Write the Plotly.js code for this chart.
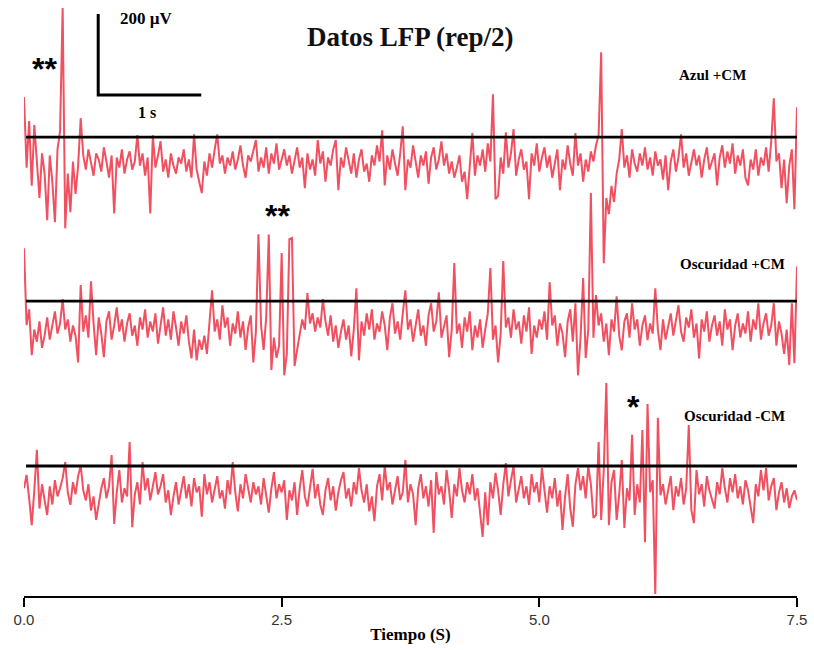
<!DOCTYPE html>
<html>
<head>
<meta charset="utf-8">
<script src="https://cdn.plot.ly/plotly-3.0.1.min.js"></script>
<style>html,body{margin:0;padding:0;background:#fff;}#chart{width:814px;height:650px;}</style>
</head>
<body>
<div id="chart"></div>
<script>
// Sampling step of the traces (seconds)
const dt = 0.025;
const tickVals = [0, 2.5, 5, 7.5];
const tickText = ['0.0', '2.5', '5.0', '7.5'];
const traceNames = ['Azul +CM', 'Oscuridad +CM', 'Oscuridad -CM'];
const markers = ['**', '**', '*'];

// LFP values in µV relative to each trace's reference line
const azulCM = [
99,-75,40,-120,30,-60,-150,-40,-90,-205,-45,-110,-210,-30,15,319,-225,-90,-185,-60,-140,
-70,47,-45,-80,-30,-65,-95,-40,-55,-85,-25,-60,-100,-45,-188,-50,-75,-30,-90,-55,
-35,-80,-60,5,-70,-40,-95,-50,-188,5,-75,-45,-10,-85,-55,-100,-40,-70,-90,-50,
-65,-30,-85,-55,-100,7,-80,-110,-138,-60,-95,-40,-75,-30,7,-65,-45,-90,-50,-70,
-35,-80,-55,-20,-70,-100,-45,-60,-30,-7,-85,-50,-75,-25,-90,-40,-65,-15,-80,-55,
-30,-70,-45,-90,-60,-25,-75,-50,-126,-40,-80,-55,-95,-7,-65,-35,-110,-50,-70,-30,
-7,-131,-50,-75,-25,-60,-90,-40,-100,-55,-30,-85,-65,-110,-45,-70,-20,-60,17,-119,
-45,-80,-30,-65,-95,-40,27,-131,-55,-75,-20,-60,-100,-45,-70,-35,-115,-50,-25,-80,
-55,-10,-70,-40,-90,-60,-100,-75,-45,-110,-85,-153,-60,10,-95,-45,-70,-30,-85,-15,
-60,106,-153,-145,-50,-90,12,-75,-40,20,-95,-55,-30,-80,-60,-153,-40,-70,-15,-85,
-50,-25,-75,-45,-100,-60,-30,-131,-55,-80,-20,-65,-95,10,-70,-40,-110,-55,-85,-35,
-60,-20,5,210,-311,-150,-190,-120,-160,-90,-55,20,-75,-45,-100,-30,-65,-85,-40,-70,
-25,-80,-50,-95,-35,-70,-55,-105,-45,-131,-60,-30,-85,-50,7,-75,-40,-95,-60,-30,
-70,-45,-100,-55,-25,-80,-60,-40,-119,-50,-20,-75,-35,-65,-15,-90,-45,-70,-30,-100,
-119,-55,-80,-30,-95,-50,-70,-25,-85,-10,96,-60,-40,-126,-55,-163,-70,-30,-178,74
];
const oscuridadCM = [
131,-59,-20,-133,-70,-100,-50,-115,-85,-40,-95,-60,-25,-80,-55,5,-70,-45,-100,-60,-85,
-151,40,-75,-35,-90,49,-55,-133,-40,-80,-138,-50,-25,-95,-60,-15,-75,-45,-100,-55,
-30,-85,-60,-110,-40,-70,-20,-90,-50,-75,-30,-105,-60,-15,-85,-45,-95,-25,-65,-110,
-50,-80,-35,-100,-141,-70,-146,-95,-120,-85,-130,-60,27,-75,-45,-95,-10,-65,-40,-110,
-55,-80,-25,-90,-50,-120,-65,-35,-151,-75,165,-60,-120,-40,165,-170,-90,-140,-110,119,
-183,-130,153,156,-160,-120,-80,-45,-70,20,-55,-30,-75,-40,-65,5,-50,-85,-35,-100,
-60,-115,-75,-45,-95,-60,-136,-70,32,-146,-50,-85,-30,-70,-20,-95,-55,-75,-25,-60,
-121,-40,-5,-80,-50,-95,-30,27,-70,-45,-100,-55,-20,-85,-60,-110,-35,-5,-75,-50,
22,-90,-60,-35,-138,-70,94,-80,-55,-115,-40,-75,-25,-121,-60,-90,-45,-115,-70,-30,
82,-95,-60,-151,-80,99,-65,-40,-90,-20,-70,-50,-105,-35,-75,-15,-130,-60,-90,-45,
-70,-25,-95,47,-60,-35,-110,-55,-80,-138,-50,-20,-100,-5,-183,-90,57,-140,-70,267,
-90,15,-60,-30,-100,-55,-133,-45,-75,12,-85,-121,-50,-30,-90,-5,-70,-45,-110,-60,
-35,-96,-55,-80,32,-70,-121,-45,-95,-60,-30,-85,-50,-10,-75,-100,-40,-65,-20,-90,
-55,-141,-45,-75,-25,-100,-60,-35,-85,-50,-110,-20,-70,-45,-121,-60,-30,-90,-55,-80,
-25,-100,-45,-70,-5,-95,-55,-30,-85,-60,-5,-110,-50,-80,-130,-70,-158,-5,-153,86
];
const oscuridadSinCM = [
-55,-22,-80,-146,-60,40,-105,-45,-85,-121,-50,-95,-35,-75,-55,-30,10,-65,-96,-40,-70,
-25,2,-60,-85,-45,-110,-75,-133,-90,-55,-30,-80,-50,27,-143,-65,-10,-90,-55,-75,
59,-151,-70,-40,-95,10,-60,-30,-85,-45,-15,-70,-50,-20,-90,-60,-121,-75,-40,-95,
-55,-25,-80,-45,-100,-30,-65,-50,-125,-20,-70,-40,-90,-55,-25,-80,-60,-105,-35,-70,
10,-65,-112,-45,-80,-20,-60,-90,-40,-70,-50,-95,-30,-75,-115,-55,-15,-80,-45,-65,
-35,-133,-60,-85,-40,-121,-55,-10,-75,-100,-50,-7,-80,-45,-95,-121,-60,-30,-85,-50,
-110,-65,-35,-15,-80,-55,-100,-40,-70,-5,-60,-90,-45,-112,-75,-136,-50,-20,-85,0,
-60,-40,-95,-55,-25,-84,-65,15,-90,-45,-70,-146,-55,-20,-80,-50,-100,-35,-165,-15,
-70,-50,-95,-10,-60,-128,-45,-75,-5,-60,-90,-40,-70,-20,-85,-55,-110,-175,-65,-146,
-40,-80,-17,-60,-121,-45,7,-75,-35,0,-90,-55,-25,-80,-50,-96,-20,-65,-40,-90,
-5,-60,-115,-50,-80,-30,-100,-60,-158,-75,-20,-105,-150,-45,-5,-60,-25,-80,0,-45,
-128,-121,59,-133,-10,205,-146,-40,-10,-133,-70,15,-153,-55,-85,77,-121,-45,-90,89,
-188,153,-65,-35,-316,119,-72,-45,-95,-60,-25,-109,-50,-75,-30,-95,-55,101,-109,-141,
-10,-70,-45,-100,-25,-60,-85,-105,-40,-70,-5,-55,-90,-30,-65,-20,-80,-50,-95,-35,
-60,-100,-141,-45,-75,-10,-60,-5,-85,-50,-30,-109,-65,-40,-90,-55,-104,-75,-60,-84
];

// Scale bar amounts
const scaleSeconds = 1;
const scaleMicroVolts = 200;

// Layout constants (vertical placement of each trace's reference line, µV)
const offsets = [1133, 728, 321];
const series = [azulCM, oscuridadCM, oscuridadSinCM];
const traceColor = 'rgb(240,80,96)';
const serif = 'Liberation Serif, Times New Roman, serif';
const sans = 'Liberation Sans, Arial, sans-serif';

const data = [];
series.forEach((vals, k) => {
  const x = vals.map((_, i) => +(i * dt).toFixed(4));
  data.push({
    type: 'scatter', mode: 'lines', name: traceNames[k],
    x: x, y: vals.map(v => v + offsets[k]),
    line: {color: traceColor, width: 2}, hoverinfo: 'skip'
  });
});
// reference lines
offsets.forEach((o, k) => {
  data.push({
    type: 'scatter', mode: 'lines', x: [0.02, 7.5], y: [o, o],
    line: {color: '#000', width: 2.8}, hoverinfo: 'skip'
  });
});
// scale bar
const sbX0 = 0.72, sbY0 = 1237;
data.push({
  type: 'scatter', mode: 'lines',
  x: [sbX0, sbX0, sbX0 + scaleSeconds],
  y: [sbY0 + scaleMicroVolts, sbY0, sbY0],
  line: {color: '#000', width: 3}, hoverinfo: 'skip'
});

const annotations = [
  {x: sbX0 + 0.19, y: sbY0 + scaleMicroVolts - 10, xanchor: 'left', yanchor: 'middle', text: '<b>200 µV</b>', font: {family: serif, size: 17, color: '#000'}},
  {x: sbX0 + scaleSeconds / 2 - 0.03, y: sbY0 - 42, xanchor: 'center', yanchor: 'middle', text: '<b>1 s</b>', font: {family: serif, size: 16, color: '#000'}},
  {x: 6.68, y: offsets[0] + 153, xanchor: 'center', yanchor: 'middle', text: '<b>' + traceNames[0] + '</b>', font: {family: serif, size: 15, color: '#000'}},
  {x: 6.87, y: offsets[1] + 91, xanchor: 'center', yanchor: 'middle', text: '<b>' + traceNames[1] + '</b>', font: {family: serif, size: 15, color: '#000'}},
  {x: 6.89, y: offsets[2] + 124, xanchor: 'center', yanchor: 'middle', text: '<b>' + traceNames[2] + '</b>', font: {family: serif, size: 15, color: '#000'}},
  {x: 0.195, y: offsets[0] + 168, xanchor: 'center', yanchor: 'middle', text: '<b>' + markers[0] + '</b>', font: {family: sans, size: 32, color: '#000'}},
  {x: 2.455, y: offsets[1] + 210, xanchor: 'center', yanchor: 'middle', text: '<b>' + markers[1] + '</b>', font: {family: sans, size: 32, color: '#000'}},
  {x: 5.91, y: offsets[2] + 146, xanchor: 'center', yanchor: 'middle', text: '<b>' + markers[2] + '</b>', font: {family: sans, size: 32, color: '#000'}}
].map(a => Object.assign({xref: 'x', yref: 'y', showarrow: false}, a));

const layout = {
  width: 814, height: 650,
  margin: {l: 24, r: 17, t: 4, b: 54},
  paper_bgcolor: '#fff', plot_bgcolor: '#fff',
  showlegend: false,
  title: {text: '<b>Datos LFP (rep/2)</b>', font: {family: serif, size: 27, color: '#111'},
          x: 0.504, xref: 'container', xanchor: 'center', y: 1 - 37 / 650, yref: 'container', yanchor: 'middle'},
  xaxis: {
    range: [0, 7.5], tickvals: tickVals, ticktext: tickText,
    showgrid: false, zeroline: false, showline: true, linecolor: '#000', linewidth: 2,
    ticks: 'outside', ticklen: 9, tickwidth: 2, tickcolor: '#000',
    tickfont: {family: sans, size: 15, color: '#333'},
    title: {text: '<b>Tiempo (S)</b>', font: {family: serif, size: 17, color: '#000'}, standoff: 1}
  },
  yaxis: {range: [0, 1462], visible: false, showgrid: false, zeroline: false, fixedrange: true},
  annotations: annotations
};

Plotly.newPlot('chart', data, layout, {displayModeBar: false, staticPlot: true});
</script>
</body>
</html>
